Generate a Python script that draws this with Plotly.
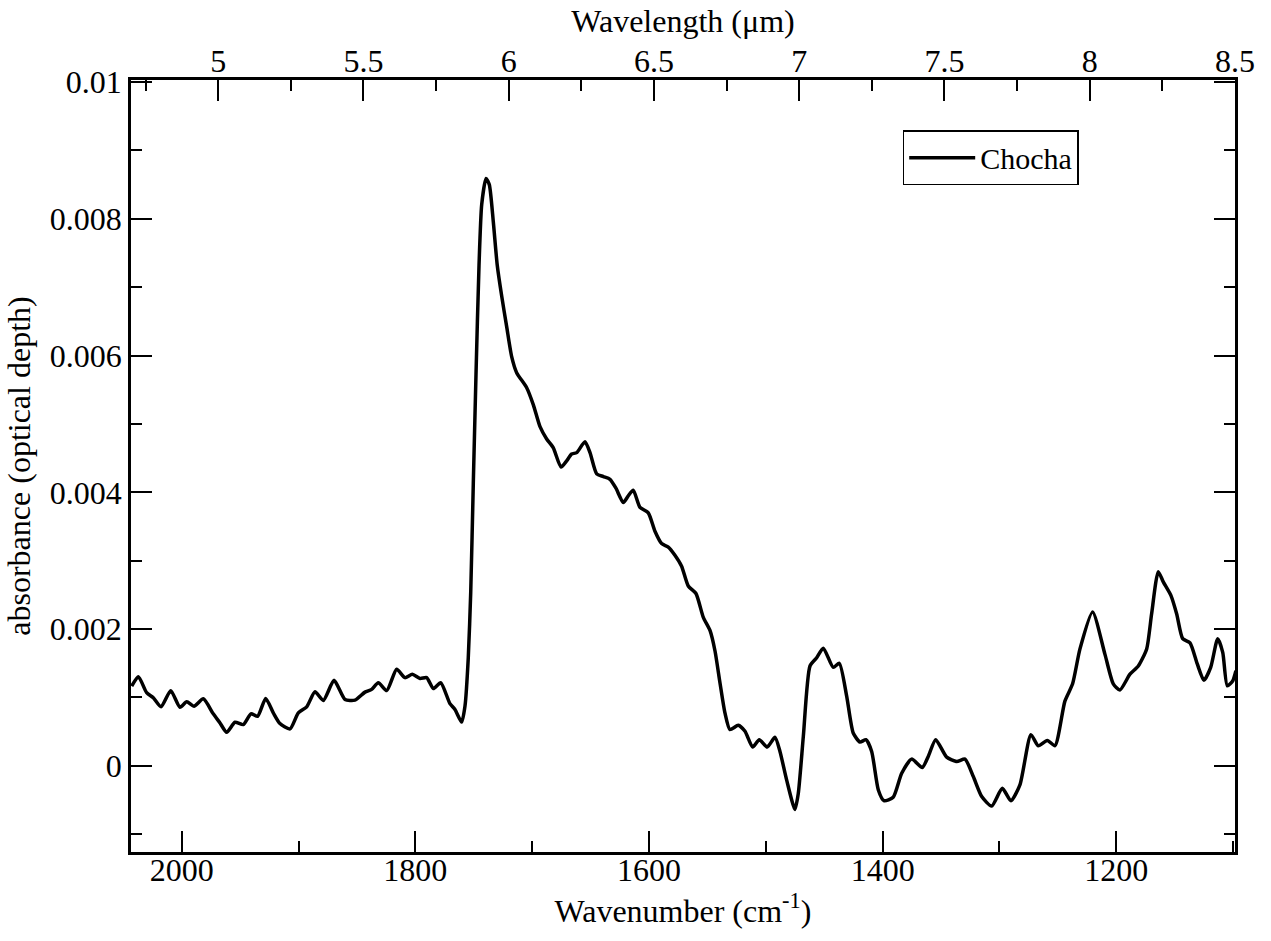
import plotly.graph_objects as go

wavenumber = [2042.8, 2037.1, 2030.0, 2024.3, 2017.7, 2009.4, 2001.5, 1995.7, 1989.5, 1981.5,
              1973.0, 1967.2, 1961.5, 1954.4, 1947.3, 1940.7, 1935.0, 1928.1, 1921.6, 1915.9,
              1907.3, 1900.2, 1893.0, 1885.9, 1878.8, 1869.6, 1860.2, 1851.7, 1843.1, 1837.4,
              1831.7, 1824.5, 1816.0, 1808.9, 1802.6, 1796.0, 1790.3, 1784.6, 1778.3, 1770.4,
              1766.1, 1760.4, 1757.5, 1754.7, 1752.6, 1750.4, 1748.1, 1745.5, 1743.2, 1739.5,
              1736.7, 1733.3, 1729.9, 1726.1, 1721.8, 1717.5, 1713.3, 1704.7, 1699.0, 1693.3,
              1687.6, 1681.9, 1675.3, 1670.5, 1666.2, 1661.9, 1654.8, 1650.5, 1644.8, 1639.1,
              1633.4, 1628.3, 1622.0, 1617.7, 1613.5, 1607.7, 1600.6, 1594.9, 1589.2, 1583.5,
              1577.8, 1572.1, 1566.4, 1559.8, 1553.5, 1547.8, 1543.5, 1539.3, 1535.0, 1530.7,
              1523.6, 1517.8, 1511.3, 1505.6, 1498.8, 1492.2, 1487.9, 1482.2, 1475.1, 1472.2,
              1467.9, 1462.2, 1456.5, 1450.8, 1442.3, 1437.1, 1430.8, 1425.2, 1419.4, 1414.3,
              1409.4, 1403.7, 1398.9, 1391.0, 1383.7, 1375.2, 1366.1, 1361.0, 1354.6, 1345.2,
              1336.6, 1329.5, 1322.4, 1315.2, 1306.7, 1297.6, 1290.2, 1282.5, 1273.1, 1266.8,
              1259.1, 1252.5, 1244.0, 1237.4, 1231.1, 1220.3, 1209.7, 1202.6, 1196.9, 1188.3,
              1181.2, 1174.0, 1169.8, 1164.1, 1159.8, 1153.2, 1148.3, 1143.2, 1136.9, 1130.7,
              1125.0, 1119.2, 1113.2, 1108.9, 1105.0, 1100.4, 1097.6]

absorbance = [0.001166, 0.001304, 0.00107, 0.000995, 0.000863, 0.0011, 0.000858, 0.000936, 0.000872, 0.00098,
              0.00076, 0.000627, 0.00049, 0.000637, 0.000603, 0.00076, 0.000725, 0.000985, 0.000775, 0.000618,
              0.00054, 0.000775, 0.000863, 0.001083, 0.000956, 0.00125, 0.00097, 0.00096, 0.001078, 0.001118,
              0.001216, 0.0011, 0.001412, 0.00129, 0.001338, 0.001278, 0.00129, 0.00113, 0.001215, 0.00091,
              0.000825, 0.00064, 0.000876, 0.00158, 0.00254, 0.00413, 0.00572, 0.00732, 0.00821, 0.00859,
              0.0085, 0.00796, 0.00732, 0.00687, 0.00642, 0.00598, 0.00575, 0.00553, 0.00528, 0.00496,
              0.00478, 0.00465, 0.00437, 0.00446, 0.00456, 0.00458, 0.00474, 0.00458, 0.00427, 0.00423,
              0.00419, 0.00406, 0.00385, 0.00395, 0.00403, 0.00378, 0.0037, 0.00343, 0.00325, 0.0032,
              0.00308, 0.00292, 0.00263, 0.00252, 0.00217, 0.00198, 0.00168, 0.00122, 0.000775, 0.00053,
              0.000593, 0.000505, 0.000275, 0.000382, 0.000275, 0.000417, 0.00021, -0.000206, -0.000637, -0.0004,
              0.00043, 0.00146, 0.00158, 0.00172, 0.00144, 0.0015, 0.00102, 0.00048, 0.000348, 0.000382,
              0.00021, -0.000353, -0.00051, -0.00046, -0.000108, 0.0000985, -0.000025, 0.000137, 0.000382, 0.000127,
              0.0000637, 0.0000985, -0.000157, -0.00045, -0.000588, -0.000328, -0.00051, -0.000279, 0.000456, 0.000294,
              0.000372, 0.000294, 0.000946, 0.0012, 0.00171, 0.00225, 0.00163, 0.0012, 0.00111, 0.00134,
              0.00146, 0.00171, 0.00222, 0.00284, 0.00269, 0.00249, 0.00222, 0.00186, 0.0018, 0.00149,
              0.00125, 0.00144, 0.00186, 0.00166, 0.00117, 0.00124, 0.00139]

series_name = "Chocha"

x_tickvals = [2000, 1800, 1600, 1400, 1200]
x_ticktext = ["2000", "1800", "1600", "1400", "1200"]
y_tickvals = [0, 0.002, 0.004, 0.006, 0.008, 0.01]
y_ticktext = ["0", "0.002", "0.004", "0.006", "0.008", "0.01"]
top_tickvals = [5, 5.5, 6, 6.5, 7, 7.5, 8, 8.5]
top_ticktext = ["5", "5.5", "6", "6.5", "7", "7.5", "8", "8.5"]

FONT = "Liberation Serif"
FS = 32

fig = go.Figure()
fig.add_trace(go.Scatter(
    x=wavenumber, y=absorbance, mode="lines", name=series_name,
    line=dict(color="black", width=3.5, shape="spline", smoothing=0.6),
))
# carrier for the top (wavelength) axis so that it is drawn; no visible marks
fig.add_trace(go.Scatter(
    x=top_tickvals, y=[None] * len(top_tickvals), xaxis="x2", yaxis="y",
    mode="lines", showlegend=False, hoverinfo="skip",
))

axis_common = dict(
    showgrid=False, zeroline=False, showline=True, linecolor="black", linewidth=2.5,
    ticks="inside", ticklen=21, tickwidth=1.8, tickcolor="black",
    tickfont=dict(family=FONT, size=FS, color="black"),
)

fig.update_layout(
    width=1271, height=941,
    margin=dict(l=131, r=36, t=80, b=89),
    paper_bgcolor="white", plot_bgcolor="white",
    font=dict(family=FONT, size=FS, color="black"),
    showlegend=True,
    legend=dict(
        x=0.699, y=0.935, xanchor="left", yanchor="top",
        bordercolor="black", borderwidth=1.5, bgcolor="white",
        itemwidth=66,
        font=dict(family=FONT, size=30, color="black"),
    ),
    xaxis=dict(
        **axis_common,
        range=[2043.4, 1098.4],
        tickmode="array", tickvals=x_tickvals, ticktext=x_ticktext,
        ticklabelstandoff=-12,
        minor=dict(dtick=100, tick0=0, ticks="inside", ticklen=11, tickwidth=1.8, tickcolor="black"),
        title=dict(text="Wavenumber (cm<sup>-1</sup>)", font=dict(family=FONT, size=FS), standoff=4),
        mirror=False,
    ),
    xaxis2=dict(
        **axis_common,
        overlaying="x", side="top", anchor="y",
        range=[4.70, 8.5],
        tickmode="array", tickvals=top_tickvals, ticktext=top_ticktext,
        ticklabelstandoff=-8,
        minor=dict(dtick=0.25, tick0=0, ticks="inside", ticklen=11, tickwidth=1.8, tickcolor="black"),
        title=dict(text="Wavelength (μm)", font=dict(family=FONT, size=FS), standoff=2),
    ),
    yaxis=dict(
        **axis_common,
        range=[-0.00126, 0.01003],
        mirror="ticks",
        tickmode="array", tickvals=y_tickvals, ticktext=y_ticktext,
        minor=dict(dtick=0.001, tick0=0, ticks="inside", ticklen=11, tickwidth=1.8, tickcolor="black"),
        title=dict(text="absorbance (optical depth)", font=dict(family=FONT, size=FS), standoff=10),
    ),
)

fig.write_html("out.html")
